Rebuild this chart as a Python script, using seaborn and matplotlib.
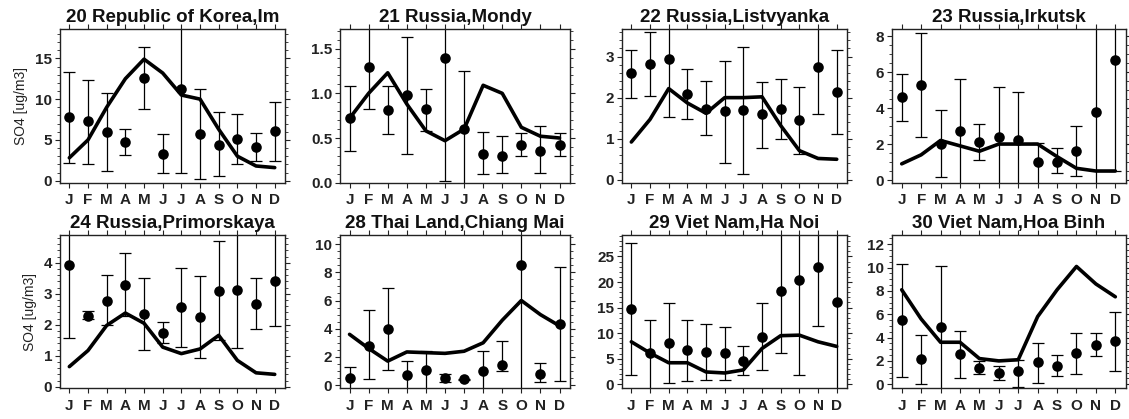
import numpy as np
import matplotlib
matplotlib.use("Agg")
import matplotlib.pyplot as plt
import seaborn as sns
from matplotlib.ticker import MultipleLocator, AutoMinorLocator

months = np.arange(1, 13)
month_labels = ['J', 'F', 'M', 'A', 'M', 'J', 'J', 'A', 'S', 'O', 'N', 'D']

titles = ['20 Republic of Korea,Im', '21 Russia,Mondy', '22 Russia,Listvyanka',
          '23 Russia,Irkutsk', '24 Russia,Primorskaya', '28 Thai Land,Chiang Mai',
          '29 Viet Nam,Ha Noi', '30 Viet Nam,Hoa Binh']

# observed monthly mean, error bar low / high, model
im_obs = [7.8, 7.3, 6.0, 4.7, 12.6, 3.3, 11.2, 5.7, 4.4, 5.1, 4.1, 6.1]
im_lo = [2.2, 2.0, 1.2, 3.2, 8.8, 1.0, 1.0, 0.2, 0.6, 2.1, 2.4, 2.4]
im_hi = [13.3, 12.4, 10.8, 6.3, 16.4, 5.7, 30.0, 11.2, 8.4, 8.2, 5.9, 9.7]
im_mod = [2.8, 5.0, 9.0, 12.5, 14.9, 13.2, 10.5, 10.0, 6.3, 3.0, 1.8, 1.6]

mondy_obs = [0.72, 1.29, 0.81, 0.98, 0.82, 1.39, 0.60, 0.32, 0.30, 0.42, 0.36, 0.42]
mondy_lo = [0.35, 0.82, 0.54, 0.32, 0.58, 0.02, -0.1, 0.10, 0.11, 0.30, 0.11, 0.30]
mondy_hi = [1.08, 2.00, 1.08, 1.63, 1.05, 2.00, 1.25, 0.57, 0.52, 0.56, 0.63, 0.56]
mondy_mod = [0.72, 1.00, 1.23, 0.88, 0.58, 0.47, 0.60, 1.09, 1.00, 0.62, 0.52, 0.50]

listv_obs = [2.60, 2.83, 2.95, 2.08, 1.73, 1.67, 1.70, 1.60, 1.73, 1.45, 2.75, 2.14]
listv_lo = [2.00, 2.05, 1.53, 1.47, 1.10, 0.42, 0.15, 0.77, 1.00, 0.62, 1.60, 1.12]
listv_hi = [3.15, 3.60, 4.50, 2.70, 2.40, 2.88, 3.23, 2.37, 2.45, 2.25, 4.50, 3.15]
listv_mod = [0.92, 1.47, 2.22, 1.87, 1.62, 2.00, 2.00, 2.02, 1.32, 0.71, 0.52, 0.50]

irk_obs = [4.6, 5.3, 2.0, 2.7, 2.1, 2.4, 2.2, 1.0, 1.0, 1.6, 3.8, 6.7]
irk_lo = [3.3, 2.4, 0.15, -0.5, 1.1, -0.5, -0.5, -0.5, 0.4, 0.25, -0.5, 0.5]
irk_hi = [5.9, 8.2, 3.9, 5.6, 3.1, 5.2, 4.9, 2.05, 1.8, 3.0, 12.0, 12.0]
irk_mod = [0.9, 1.4, 2.2, 1.9, 1.6, 2.0, 2.0, 2.0, 1.3, 0.65, 0.5, 0.5]

prim_obs = [3.93, 2.30, 2.77, 3.30, 2.35, 1.73, 2.57, 2.25, 3.08, 3.12, 2.67, 3.43]
prim_lo = [1.57, 2.20, 2.00, 2.30, 1.20, 1.40, 1.28, 0.93, 1.50, 1.25, 1.85, 1.97]
prim_hi = [6.00, 2.45, 3.60, 4.33, 3.50, 2.08, 3.85, 3.57, 4.70, 6.00, 3.50, 6.00]
prim_mod = [0.65, 1.17, 1.98, 2.38, 2.05, 1.28, 1.07, 1.22, 1.66, 0.85, 0.45, 0.40]

chiang_obs = [0.5, 2.8, 4.0, 0.7, 1.1, 0.5, 0.4, 1.0, 1.4, 8.5, 0.8, 4.3]
chiang_lo = [-0.3, 0.4, 1.1, -0.3, -0.3, 0.2, 0.35, -0.3, 1.0, -0.3, 0.2, 0.3]
chiang_hi = [1.3, 5.3, 6.9, 1.7, 2.4, 0.8, 0.45, 2.4, 3.1, 14.0, 1.6, 8.4]
chiang_mod = [3.6, 2.6, 1.7, 2.35, 2.3, 2.25, 2.4, 3.0, 4.6, 6.0, 5.0, 4.2]

hanoi_obs = [14.7, 6.2, 8.0, 6.6, 6.4, 6.1, 4.6, 9.3, 18.2, 20.3, 23.0, 16.1]
hanoi_lo = [1.8, -1.0, 0.3, 0.6, 0.9, 0.9, 1.9, 2.7, 6.1, 1.8, 11.3, -1.0]
hanoi_hi = [27.6, 12.5, 15.9, 12.5, 11.8, 11.1, 7.4, 15.9, 40.0, 40.0, 40.0, 40.0]
hanoi_mod = [8.3, 6.1, 4.2, 4.2, 2.4, 2.2, 2.8, 7.0, 9.5, 9.6, 8.3, 7.4]

hoa_obs = [5.5, 2.2, 4.9, 2.6, 1.4, 1.0, 1.1, 1.9, 1.6, 2.7, 3.4, 3.7]
hoa_lo = [0.6, 0.0, -0.5, 0.5, 0.9, 0.4, -0.2, 0.1, 0.7, 0.9, 2.4, 1.1]
hoa_hi = [10.3, 4.2, 10.1, 4.6, 2.0, 1.6, 2.1, 3.5, 2.5, 4.4, 4.4, 6.2]
hoa_mod = [8.1, 5.6, 3.6, 3.6, 2.2, 2.0, 2.1, 5.8, 8.1, 10.1, 8.6, 7.5]

stations = [
    (im_obs, im_lo, im_hi, im_mod, (-0.25, 18.6), 5),
    (mondy_obs, mondy_lo, mondy_hi, mondy_mod, (0.0, 1.72), 0.5),
    (listv_obs, listv_lo, listv_hi, listv_mod, (-0.07, 3.67), 1),
    (irk_obs, irk_lo, irk_hi, irk_mod, (-0.15, 8.4), 2),
    (prim_obs, prim_lo, prim_hi, prim_mod, (-0.05, 4.9), 1),
    (chiang_obs, chiang_lo, chiang_hi, chiang_mod, (-0.23, 10.65), 2),
    (hanoi_obs, hanoi_lo, hanoi_hi, hanoi_mod, (-0.8, 29.2), 5),
    (hoa_obs, hoa_lo, hoa_hi, hoa_mod, (-0.35, 12.8), 2),
]

sns.set_style("ticks")
plt.rcParams['font.family'] = ['Liberation Sans', 'DejaVu Sans']

fig = plt.figure(figsize=(11.29, 4.19), dpi=100)

# axes boxes in pixels: left, right per column; top row / bottom row
col_px = [(60, 285), (340, 570), (622, 847), (892, 1126)]
row_px = [(29, 182.7), (235, 388.3)]
W, H = 1129, 419

for i, (obs, lo, hi, mod, ylim, step) in enumerate(stations):
    r, c = divmod(i, 4)
    x0, x1 = col_px[c]
    y0, y1 = row_px[r]
    ax = fig.add_axes([x0 / W, 1 - y1 / H, (x1 - x0) / W, (y1 - y0) / H])

    obs = np.array(obs)
    yerr = [obs - np.array(lo), np.array(hi) - obs]
    ax.errorbar(months, obs, yerr=yerr, fmt='none', ecolor='black',
                elinewidth=0.9, capsize=4, capthick=0.9, zorder=2)
    sns.lineplot(x=months, y=mod, ax=ax, color='black', lw=2.6, zorder=3)
    sns.scatterplot(x=months, y=obs, ax=ax, color='black', s=58,
                    edgecolor='black', linewidth=0, zorder=4)

    ax.set_xlim(0.5, 12.55)
    ax.set_ylim(*ylim)
    ax.set_xticks(months)
    ax.set_xticklabels(month_labels)
    ax.yaxis.set_major_locator(MultipleLocator(step))
    ax.yaxis.set_minor_locator(AutoMinorLocator())
    ax.tick_params(axis='both', which='major', direction='out', length=3.5,
                   width=0.8, labelsize=11, colors='#222222', pad=2)
    ax.tick_params(axis='y', which='minor', direction='out', length=2,
                   width=0.6, colors='#222222')
    ax.tick_params(top=True, right=True, which='both')
    ax.tick_params(axis='x', which='minor', top=False, bottom=False)
    ax.tick_params(axis='x', which='major', pad=4)
    for lab in ax.get_xticklabels() + ax.get_yticklabels():
        lab.set_fontweight('bold')
    for sp in ax.spines.values():
        sp.set_linewidth(1.0)
        sp.set_color('#222222')
    ax.set_title(titles[i], fontsize=13.5, fontweight='bold', pad=5, color='#111111')
    ax.set_xlabel('')
    if c == 0:
        ax.set_ylabel('SO4 [ug/m3]', fontsize=10, color='#222222', labelpad=5)
    else:
        ax.set_ylabel('')

fig.savefig('out.png', dpi=100)
